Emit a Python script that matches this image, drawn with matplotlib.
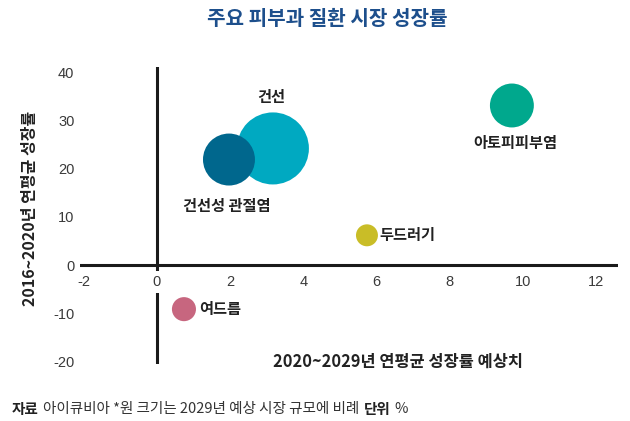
import matplotlib.pyplot as plt
from matplotlib import font_manager

# fonts: narrow latin for ticks, CJK for Korean text
names = {f.name for f in font_manager.fontManager.ttflist}
narrow = 'Liberation Sans Narrow' if 'Liberation Sans Narrow' in names else 'Liberation Sans'
plt.rcParams['font.family'] = ['Noto Sans CJK KR', 'DejaVu Sans']
plt.rcParams['axes.unicode_minus'] = False

# Data
diseases = ['건선', '건선성 관절염', '아토피피부염', '두드러기', '여드름']
growth_2029 = [3.17, 1.97, 9.7, 5.74, 0.74]      # 2020~2029 CAGR forecast (%)
growth_2020 = [24.2, 21.9, 33.1, 6.2, -9.1]      # 2016~2020 CAGR (%)
market_size = [2690, 1400, 1000, 250, 300]      # bubble area (relative 2029 market size)
colors = ['#00a9c1', '#00678d', '#00a88d', '#c9bd27', '#c7667f']

xticks = [-2, 0, 2, 4, 6, 8, 10, 12]
yticks = [-20, -10, 0, 10, 20, 30, 40]

fig = plt.figure(figsize=(6.3, 4.21), dpi=100)
ax = fig.add_axes([0.127, 0.135, 0.854, 0.705])

for i in range(len(diseases)):
    ax.scatter(growth_2029[i], growth_2020[i], s=market_size[i], color=colors[i],
               edgecolors='none', zorder=3)

ax.set_xlim(-2.1, 12.6)
ax.set_ylim(-20.5, 41)

# axis lines through the origin
ax.axhline(0, color='#1a1a1a', lw=2.2, zorder=2)
ax.axvline(0, color='#1a1a1a', lw=2.2, zorder=2)

for s in ax.spines.values():
    s.set_color('none')
ax.spines['bottom'].set_position(('data', 0))
ax.xaxis.set_zorder(2.5)

ax.set_xticks(xticks)
ax.set_yticks(yticks)
ax.tick_params(length=0, labelsize=10.5, labelcolor='#3a3a3a')
ax.tick_params(axis='x', pad=7)
ax.tick_params(axis='y', pad=4)
for lab in ax.get_xticklabels() + ax.get_yticklabels():
    lab.set_family(narrow)
# white patch behind "0" so the vertical axis line is broken there
ax.get_xticklabels()[1].set_bbox(dict(facecolor='white', edgecolor='none', pad=3))

# bubble labels
lab_kw = dict(fontsize=11, fontweight='bold', color='#222222', zorder=4)
ax.text(growth_2029[0] - 0.05, growth_2020[0] + 10.7, diseases[0], ha='center', va='center', **lab_kw)
ax.text(growth_2029[1] - 0.05, growth_2020[1] - 9.6, diseases[1], ha='center', va='center', **lab_kw)
ax.text(growth_2029[2] + 0.1, growth_2020[2] - 7.7, diseases[2], ha='center', va='center', **lab_kw)
ax.text(growth_2029[3] + 0.35, growth_2020[3], diseases[3], ha='left', va='center', **lab_kw)
ax.text(growth_2029[4] + 0.42, growth_2020[4], diseases[4], ha='left', va='center', **lab_kw)

fig.text(0.519, 0.955, '주요 피부과 질환 시장 성장률', ha='center', va='center',
         fontsize=14.5, fontweight='bold', color='#1d4f8c')
fig.text(0.048, 0.506, '2016~2020년 연평균 성장률', rotation=90, ha='center', va='center',
         fontsize=11.5, fontweight='bold', color='#222222')
fig.text(0.632, 0.140, '2020~2029년 연평균 성장률 예상치', ha='center', va='center',
         fontsize=11.8, fontweight='bold', color='#222222')

# footer
y_f = 0.029
fs = 10.5
t1 = fig.text(0.019, y_f, '자료', ha='left', va='center', fontsize=fs, fontweight='bold', color='#222222')
fig.canvas.draw()
r = fig.canvas.get_renderer()
bb = t1.get_window_extent(r).transformed(fig.transFigure.inverted())
t2 = fig.text(bb.x1 + 0.007, y_f, '아이큐비아 *원 크기는 2029년 예상 시장 규모에 비례', ha='left', va='center',
              fontsize=fs, color='#333333')
bb = t2.get_window_extent(r).transformed(fig.transFigure.inverted())
t3 = fig.text(bb.x1 + 0.007, y_f, '단위', ha='left', va='center', fontsize=fs, fontweight='bold', color='#222222')
bb = t3.get_window_extent(r).transformed(fig.transFigure.inverted())
fig.text(bb.x1 + 0.006, y_f, '%', ha='left', va='center', fontsize=fs, color='#333333')

fig.savefig('out.png', dpi=100)
